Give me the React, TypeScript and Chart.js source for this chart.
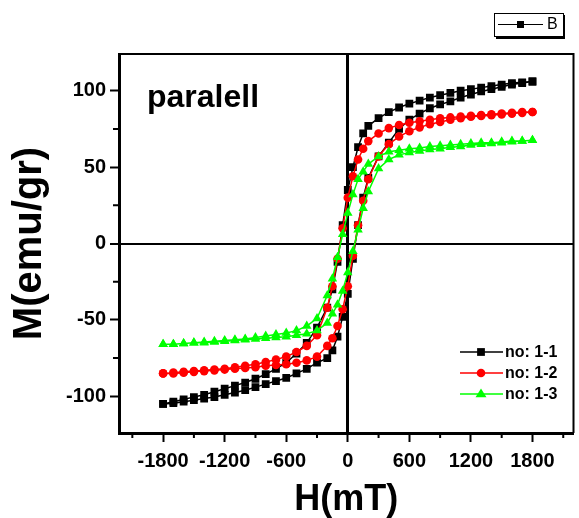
import React, { useEffect, useRef } from "react";
import { Chart, registerables } from "chart.js";

Chart.register(...registerables);

const H_DOWN = [1800, 1700, 1600, 1500, 1400, 1300, 1200, 1100, 1000, 900, 800, 700, 600, 500, 400, 300, 200, 150, 100, 50, 0, -50, -100, -150, -200, -300, -400, -500, -600, -700, -800, -900, -1000, -1100, -1200, -1300, -1400, -1500, -1600, -1700, -1800];
const H_UP = [-1800, -1700, -1600, -1500, -1400, -1300, -1200, -1100, -1000, -900, -800, -700, -600, -500, -400, -300, -200, -150, -100, -50, 0, 50, 100, 150, 200, 300, 400, 500, 600, 700, 800, 900, 1000, 1100, 1200, 1300, 1400, 1500, 1600, 1700, 1800];

const M11_DOWN = [106, 105.5, 105, 104, 103, 102, 101, 100, 98.5, 97, 95.5, 93.5, 91.5, 89, 86, 82, 77, 72, 63, 50, 35, 12, -12, -30, -42, -55, -65, -72, -78, -82, -85.5, -88.5, -91, -93, -95, -97, -99, -100.5, -102, -103.5, -105];
const M11_UP = [-105, -104.5, -103.5, -102.5, -101.5, -100.5, -99, -97.5, -96, -94, -92, -90, -88, -85, -82, -78, -75, -70, -61, -48, -33, -10, 12, 30, 43, 57, 66, 75, 81, 85, 88.5, 91, 93, 95.5, 97.5, 99.5, 101, 102.5, 104, 105, 106];

const M12_DOWN = [86, 86, 85.5, 85, 84.5, 84, 83.5, 83, 82.5, 82, 81, 80, 79, 77.5, 75.5, 72, 67, 62, 55, 44, 30, 10, -10, -28, -42, -60, -67, -71, -74, -76, -77.5, -79, -80, -81, -82, -82.5, -83, -83.5, -84, -84.5, -85];
const M12_UP = [-85, -85, -84.5, -84, -83.5, -83, -82.5, -82, -81.5, -81, -80, -79.5, -79, -78, -76.5, -74, -67, -62, -54, -43, -28, -8, 12, 28, 42, 57, 65, 70, 73.5, 76, 78, 79.5, 81, 82, 83, 83.5, 84, 84.5, 85, 85.5, 86];

const M13_DOWN = [67.5, 67, 67, 66.5, 66, 66, 65.5, 65, 64.5, 64, 63.5, 62.5, 62, 61, 60, 57, 52, 47, 42, 32, 20, 6, -9, -23, -34, -49, -54, -57, -58.5, -59.5, -60.5, -61.5, -62.5, -63, -63.5, -64, -64.5, -65, -65.5, -66, -66];
const M13_UP = [-66, -66, -65.5, -65, -65, -64.5, -64, -63.5, -63, -62.5, -62, -61.5, -61, -60, -59, -57, -52, -46, -40, -31, -19, -5, 9, 23, 34, 49, 55, 58, 59.5, 60.5, 61.5, 62, 63, 63.5, 64.5, 65, 65.5, 66, 66.5, 67, 67.5];

const SERIES_NAMES = ["no: 1-1", "no: 1-2", "no: 1-3"];
const X_TICKS = [-2100, -1800, -1500, -1200, -900, -600, -300, 0, 300, 600, 900, 1200, 1500, 1800, 2100];
const Y_TICKS = [-100, -75, -50, -25, 0, 25, 50, 75, 100];
const X_MAJOR = 600;
const Y_MAJOR = 50;
const PANEL_LABEL = "paralell";
const X_TITLE = "H(mT)";
const Y_TITLE = "M(emu/gr)";
const TOP_LEGEND_LABEL = "B";

const FONT = "'Liberation Sans', Arial, sans-serif";

const loop = (down: number[], up: number[]) => [
  ...H_DOWN.map((h, i) => ({ x: h, y: down[i] })),
  ...H_UP.map((h, i) => ({ x: h, y: up[i] })),
];

const STYLES = [
  { color: "#000000", pointStyle: "rect", radius: 5.5 },
  { color: "#ff0000", pointStyle: "circle", radius: 4.3 },
  { color: "#00ff00", pointStyle: "triangle", radius: 5.5 },
];

function drawMarker(ctx: any, style: string, x: number, y: number, r: number, color: string) {
  ctx.fillStyle = color;
  ctx.beginPath();
  if (style === "rect") {
    const s = r * Math.SQRT1_2;
    ctx.rect(x - s, y - s, 2 * s, 2 * s);
  } else if (style === "circle") {
    ctx.arc(x, y, r, 0, Math.PI * 2);
  } else {
    ctx.moveTo(x, y - r);
    ctx.lineTo(x + r, y + r * 0.6);
    ctx.lineTo(x - r, y + r * 0.6);
    ctx.closePath();
  }
  ctx.fill();
}

const decorPlugin = {
  id: "decor",
  afterDraw(chart: any) {
    const { ctx, chartArea } = chart;
    const xs = chart.scales.x;
    const ys = chart.scales.y;
    ctx.save();
    // frame top & right
    ctx.strokeStyle = "#000";
    ctx.lineWidth = 2;
    ctx.beginPath();
    ctx.moveTo(chartArea.left, chartArea.top);
    ctx.lineTo(chartArea.right, chartArea.top);
    ctx.lineTo(chartArea.right, chartArea.bottom);
    ctx.stroke();
    // minor ticks
    ctx.lineWidth = 2;
    ctx.beginPath();
    X_TICKS.forEach((v) => {
      if (v % X_MAJOR !== 0) {
        const px = xs.getPixelForValue(v);
        ctx.moveTo(px, chartArea.bottom);
        ctx.lineTo(px, chartArea.bottom + 5);
      }
    });
    Y_TICKS.forEach((v) => {
      if (v % Y_MAJOR !== 0) {
        const py = ys.getPixelForValue(v);
        ctx.moveTo(chartArea.left, py);
        ctx.lineTo(chartArea.left - 6, py);
      }
    });
    ctx.stroke();
    // panel label
    ctx.fillStyle = "#000";
    ctx.font = `bold 32px ${FONT}`;
    ctx.textBaseline = "alphabetic";
    ctx.textAlign = "left";
    ctx.fillText(PANEL_LABEL, chartArea.left + 28, chartArea.top + 53);
    // inner legend
    const lx = 460;
    const rows = [352, 373, 394];
    chart.data.datasets.forEach((ds: any, i: number) => {
      const y = rows[i];
      ctx.strokeStyle = ds.borderColor;
      ctx.lineWidth = 1.5;
      ctx.beginPath();
      ctx.moveTo(lx, y);
      ctx.lineTo(lx + 43, y);
      ctx.stroke();
      drawMarker(ctx, ds.pointStyle, lx + 21, y, ds.pointRadius, ds.borderColor);
      ctx.fillStyle = "#000";
      ctx.font = `bold 16px ${FONT}`;
      ctx.textBaseline = "middle";
      ctx.fillText(ds.label, lx + 45, y + 1);
    });
    // top legend box "B"
    ctx.fillStyle = "#000";
    ctx.fillRect(496, 36, 69, 3);
    ctx.fillRect(563, 15, 2, 24);
    ctx.fillStyle = "#fff";
    ctx.fillRect(494, 13, 69, 23);
    ctx.strokeStyle = "#000";
    ctx.lineWidth = 1;
    ctx.strokeRect(494.5, 13.5, 69, 23);
    ctx.beginPath();
    ctx.moveTo(498, 24.5);
    ctx.lineTo(543, 24.5);
    ctx.stroke();
    ctx.fillStyle = "#000";
    ctx.fillRect(517, 21, 7, 7);
    ctx.font = `16px ${FONT}`;
    ctx.textBaseline = "middle";
    ctx.fillText(TOP_LEGEND_LABEL, 547, 25);
    ctx.restore();
  },
};

export default function App() {
  const ref = useRef<HTMLCanvasElement>(null);
  useEffect(() => {
    if (!ref.current) return;
    const seriesData = [
      loop(M11_DOWN, M11_UP),
      loop(M12_DOWN, M12_UP),
      loop(M13_DOWN, M13_UP),
    ];
    const chart = new Chart(ref.current, {
      type: "scatter",
      data: {
        datasets: seriesData.map((d, i) => ({
          label: SERIES_NAMES[i],
          data: d,
          showLine: true,
          borderColor: STYLES[i].color,
          backgroundColor: STYLES[i].color,
          pointBackgroundColor: STYLES[i].color,
          pointBorderColor: STYLES[i].color,
          pointStyle: STYLES[i].pointStyle as any,
          pointRadius: STYLES[i].radius,
          pointBorderWidth: 0,
          borderWidth: 1.5,
          tension: 0,
          order: 2 - i,
        })),
      },
      plugins: [decorPlugin],
      options: {
        animation: false,
        responsive: false,
        maintainAspectRatio: false,
        layout: { padding: { top: 54, right: 1, left: 0, bottom: 0 } },
        plugins: { legend: { display: false }, tooltip: { enabled: false } },
        scales: {
          x: {
            type: "linear",
            min: -2230,
            max: 2200,
            afterBuildTicks: (s: any) => {
              s.ticks = X_TICKS.map((v) => ({ value: v }));
            },
            afterFit: (s: any) => {
              s.height = 85;
            },
            border: { display: true, color: "#000", width: 3 },
            grid: {
              drawOnChartArea: true,
              color: (c: any) => (c.tick && c.tick.value === 0 ? "#000" : "rgba(0,0,0,0)"),
              lineWidth: (c: any) => (c.tick && c.tick.value === 0 ? 3 : 1),
              tickColor: (c: any) => (c.tick && c.tick.value % X_MAJOR === 0 ? "#000" : "rgba(0,0,0,0)"),
              tickWidth: 2,
              tickLength: 9,
            },
            ticks: {
              autoSkip: false,
              maxRotation: 0,
              padding: 7,
              color: "#000",
              font: { family: FONT, size: 20, weight: "bold" },
              callback: (v: any) => (Number(v) % X_MAJOR === 0 ? String(v) : ""),
            },
            title: {
              display: true,
              text: X_TITLE,
              color: "#000",
              font: { family: FONT, size: 36, weight: "bold", lineHeight: 1 },
              padding: { top: 0, bottom: 0 },
            },
          },
          y: {
            type: "linear",
            min: -124,
            max: 124,
            afterBuildTicks: (s: any) => {
              s.ticks = Y_TICKS.map((v) => ({ value: v }));
            },
            afterFit: (s: any) => {
              s.width = 119;
            },
            border: { display: true, color: "#000", width: 3 },
            grid: {
              drawOnChartArea: true,
              color: (c: any) => (c.tick && c.tick.value === 0 ? "#000" : "rgba(0,0,0,0)"),
              lineWidth: (c: any) => (c.tick && c.tick.value === 0 ? 2 : 1),
              tickColor: (c: any) => (c.tick && c.tick.value % Y_MAJOR === 0 ? "#000" : "rgba(0,0,0,0)"),
              tickWidth: 2,
              tickLength: 9,
            },
            ticks: {
              autoSkip: false,
              padding: 4,
              color: "#000",
              font: { family: FONT, size: 20, weight: "bold" },
              callback: (v: any) => (Number(v) % Y_MAJOR === 0 ? String(v) : ""),
            },
            title: {
              display: true,
              text: Y_TITLE,
              color: "#000",
              font: { family: FONT, size: 40, weight: "bold", lineHeight: 1 },
              padding: { top: 10, bottom: 0 },
            },
          },
        },
      },
    } as any);
    return () => chart.destroy();
  }, []);
  return (
    <div style={{ position: "absolute", left: 0, top: 0, width: 579, height: 518, background: "#fff" }}>
      <canvas ref={ref} width={579} height={518} style={{ width: 579, height: 518, display: "block" }} />
    </div>
  );
}
